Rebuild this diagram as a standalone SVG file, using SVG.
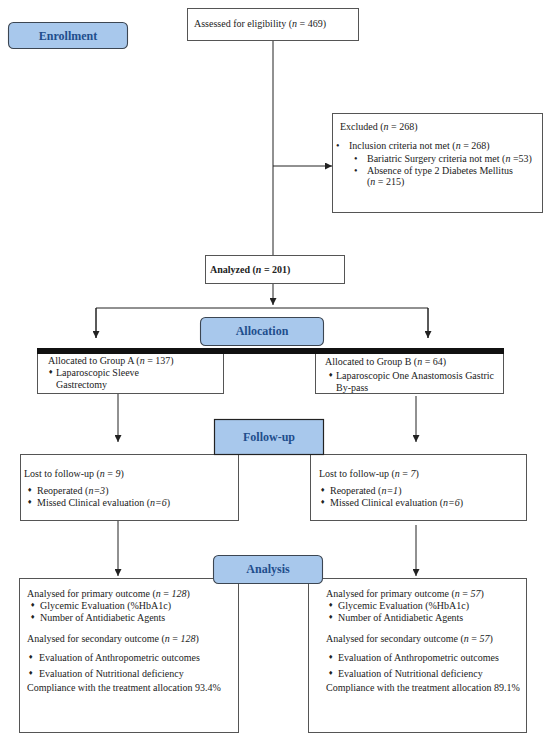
<svg xmlns="http://www.w3.org/2000/svg" width="550" height="740" viewBox="0 0 550 740">
<style>
.box{fill:#fff;stroke:#555;stroke-width:1}
.lbl{fill:#a8c8ec;stroke:#3c4652;stroke-width:1.1}
.lt{font-family:"Liberation Serif","Times New Roman",serif;font-size:12px;font-weight:bold;fill:#1f4e8c;text-anchor:middle}
.t{font-family:"Liberation Serif","Times New Roman",serif;font-size:10px;fill:#222}
.b{font-family:"DejaVu Sans",sans-serif;font-size:6px;fill:#222}
.ln{stroke:#222;stroke-width:1;fill:none}
</style>
<defs>
<marker id="ah" viewBox="0 0 8 8" refX="8" refY="4" markerWidth="7" markerHeight="7" markerUnits="userSpaceOnUse" orient="auto">
<path d="M0,0 L8,4 L0,8 z" fill="#222"/>
</marker>
</defs>
<rect width="550" height="740" fill="#fff"/>
<g id="connectors">
<line class="ln" x1="273" y1="40" x2="273" y2="255"/>
<line class="ln" x1="273" y1="166" x2="332" y2="166" marker-end="url(#ah)"/>
<line class="ln" x1="273" y1="283" x2="273" y2="305" marker-end="url(#ah)"/>
<polyline class="ln" points="96,338 96,308 428,308 428,338"/>
<line class="ln" x1="96" y1="308" x2="96" y2="338" marker-end="url(#ah)"/>
<line class="ln" x1="428" y1="308" x2="428" y2="338" marker-end="url(#ah)"/>
<line class="ln" x1="118" y1="393" x2="118" y2="442" marker-end="url(#ah)"/>
<line class="ln" x1="416" y1="396" x2="416" y2="442" marker-end="url(#ah)"/>
<line class="ln" x1="118" y1="521" x2="118" y2="576" marker-end="url(#ah)"/>
<line class="ln" x1="416" y1="525" x2="416" y2="576" marker-end="url(#ah)"/>
</g>
<g id="enrollment">
<rect class="lbl" x="8.5" y="22.5" width="119" height="26" rx="5"/>
<text class="lt" x="68" y="40">Enrollment</text>
</g>
<g id="assessed">
<rect class="box" x="187.5" y="8.5" width="171" height="32"/>
<text class="t" x="194" y="27">Assessed for eligibility  (<tspan font-style="italic">n</tspan> = 469)</text>
</g>
<g id="excluded">
<rect class="box" x="332.5" y="113.5" width="210" height="99"/>
<text class="t" x="340" y="130">Excluded (<tspan font-style="italic">n</tspan> = 268)</text>
<text class="t" x="336" y="149">•</text>
<text class="t" x="349" y="149">Inclusion criteria not met (<tspan font-style="italic">n</tspan> = 268)</text>
<text class="t" x="354" y="162">•</text>
<text class="t" x="367" y="162">Bariatric Surgery criteria not met (<tspan font-style="italic">n</tspan> =53)</text>
<text class="t" x="354" y="174">•</text>
<text class="t" x="367" y="174">Absence of type 2 Diabetes Mellitus</text>
<text class="t" x="367" y="185">(<tspan font-style="italic">n</tspan>  = 215)</text>
</g>
<g id="analyzed">
<rect class="box" x="205.5" y="255.5" width="139" height="28"/>
<text class="t" x="210" y="273" font-size="12" font-weight="bold">Analyzed (<tspan font-style="italic">n</tspan> = 201)</text>
</g>
<g id="allocation">
<rect class="lbl" x="200.5" y="317.5" width="123" height="28" rx="5"/>
<text class="lt" x="262" y="335">Allocation</text>
</g>
<g id="groupA">
<rect class="box" x="37.5" y="348.5" width="186" height="45"/>
<text class="t" x="48" y="364">Allocated to Group A (<tspan font-style="italic">n</tspan> = 137)</text>
<text class="b" x="48" y="374">♦</text>
<text class="t" x="56" y="376">Laparoscopic Sleeve</text>
<text class="t" x="56" y="388">Gastrectomy</text>
</g>
<g id="groupB">
<rect class="box" x="315.5" y="348.5" width="188" height="45"/>
<text class="t" x="325" y="365">Allocated to Group B (<tspan font-style="italic">n</tspan> = 64)</text>
<text class="b" x="328" y="377">♦</text>
<text class="t" x="336" y="379">Laparoscopic One Anastomosis Gastric</text>
<text class="t" x="336" y="391">By-pass</text>
</g>
<rect x="37" y="348" width="467" height="6" fill="#111"/>
<g id="lostA">
<rect class="box" x="20.5" y="454.5" width="218" height="66"/>
<text class="t" x="24" y="477">Lost to follow-up (<tspan font-style="italic">n</tspan>  =  <tspan font-style="italic">9</tspan>)</text>
<text class="b" x="27" y="492">♦</text>
<text class="t" x="37" y="494">Reoperated (<tspan font-style="italic">n=3</tspan>)</text>
<text class="b" x="27" y="504">♦</text>
<text class="t" x="37" y="506">Missed Clinical evaluation (<tspan font-style="italic">n=6</tspan>)</text>
</g>
<g id="lostB">
<rect class="box" x="310.5" y="454.5" width="216" height="66"/>
<text class="t" x="319" y="477">Lost to follow-up (<tspan font-style="italic">n</tspan>  =  <tspan font-style="italic">7</tspan>)</text>
<text class="b" x="320" y="492">♦</text>
<text class="t" x="330" y="494">Reoperated (<tspan font-style="italic">n=1</tspan>)</text>
<text class="b" x="320" y="504">♦</text>
<text class="t" x="330" y="506">Missed Clinical evaluation (<tspan font-style="italic">n=6</tspan>)</text>
</g>
<g id="followup">
<rect x="214.5" y="419.5" width="109" height="35" fill="#a8c8ec" stroke="#222" stroke-width="1.2"/>
<text class="lt" x="269" y="441">Follow-up</text>
</g>
<g id="analysisA">
<rect class="box" x="19.5" y="578.5" width="219" height="154"/>
<text class="t" x="27" y="597">Analysed for primary outcome (<tspan font-style="italic">n</tspan>  =  <tspan font-style="italic">128</tspan>)</text>
<text class="b" x="30" y="607">♦</text>
<text class="t" x="40" y="609">Glycemic Evaluation (%HbA1c)</text>
<text class="b" x="30" y="619">♦</text>
<text class="t" x="40" y="621">Number of Antidiabetic Agents</text>
<text class="t" x="27" y="642">Analysed for secondary outcome (<tspan font-style="italic">n</tspan>  =  <tspan font-style="italic">128</tspan>)</text>
<text class="b" x="28" y="659">♦</text>
<text class="t" x="39" y="661">Evaluation of Anthropometric outcomes</text>
<text class="b" x="28" y="675">♦</text>
<text class="t" x="39" y="677">Evaluation of Nutritional deficiency</text>
<text class="t" x="27" y="691">Compliance with the treatment allocation 93.4%</text>
</g>
<g id="analysisB">
<rect class="box" x="308.5" y="578.5" width="218" height="154"/>
<text class="t" x="326" y="597">Analysed for primary outcome (<tspan font-style="italic">n</tspan>  =  <tspan font-style="italic">57</tspan>)</text>
<text class="b" x="328" y="607">♦</text>
<text class="t" x="338" y="609">Glycemic Evaluation (%HbA1c)</text>
<text class="b" x="328" y="619">♦</text>
<text class="t" x="338" y="621">Number of Antidiabetic Agents</text>
<text class="t" x="326" y="642">Analysed for secondary outcome (<tspan font-style="italic">n</tspan>  =  <tspan font-style="italic">57</tspan>)</text>
<text class="b" x="328" y="659">♦</text>
<text class="t" x="338" y="661">Evaluation of Anthropometric outcomes</text>
<text class="b" x="328" y="675">♦</text>
<text class="t" x="338" y="677">Evaluation of Nutritional deficiency</text>
<text class="t" x="326" y="691">Compliance with the treatment allocation 89.1%</text>
</g>
<g id="analysis">
<rect class="lbl" x="213.5" y="555.5" width="109" height="28" rx="5"/>
<text class="lt" x="268" y="573">Analysis</text>
</g>
</svg>
